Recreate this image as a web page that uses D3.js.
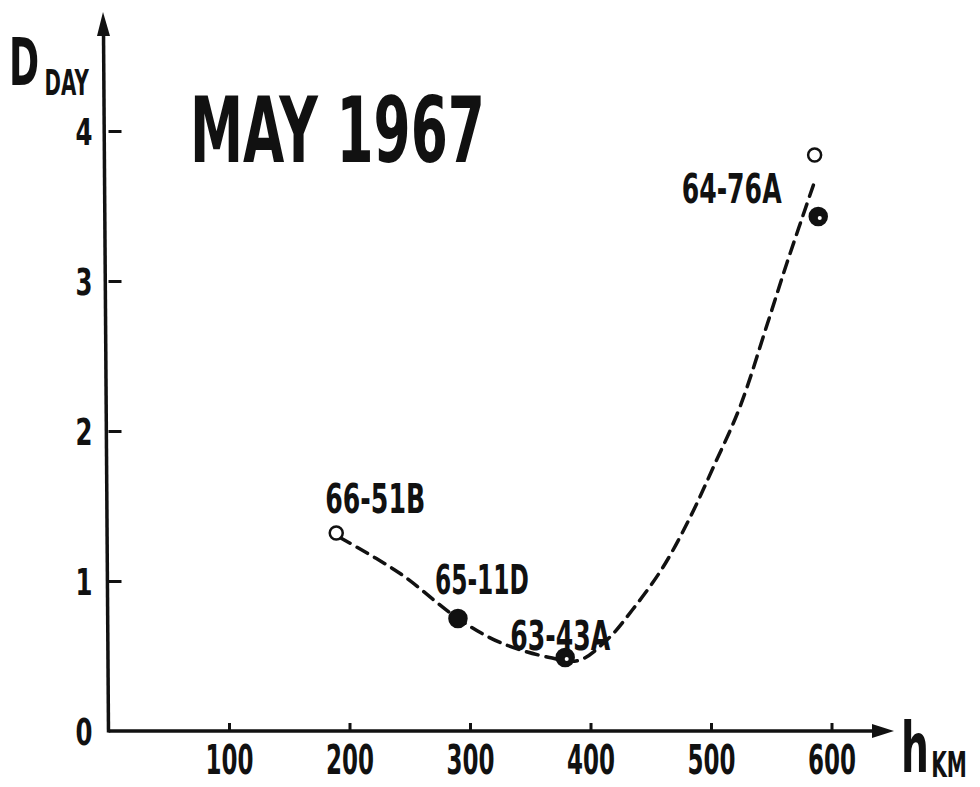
<!DOCTYPE html>
<html lang="en">
<head>
<meta charset="utf-8">
<title>May 1967</title>
<script src="https://cdn.jsdelivr.net/npm/d3@7"></script>
<style>
  body { margin: 0; background: #fff; }
  text { font-family: "Liberation Sans Narrow", "DejaVu Sans", sans-serif; font-weight: bold; fill: #111; }
</style>
</head>
<body>
<script>
// measured points (h in km, D_day)
var pointH = [189, 290, 379, 586, 589];
var pointD = [1.32, 0.75, 0.49, 3.84, 3.43];
var pointOpen = [true, false, false, true, false];
var pointDot = [false, false, true, false, true];

var satNames = ["66-51B", "65-11D", "63-43A", "64-76A"];
var satPoint = [0, 1, 2, 3];

// dashed fitted curve
var curveH = [192, 242, 290, 325, 366, 390, 414, 435, 460, 483, 502, 524, 547, 563, 585];
var curveD = [1.29, 1.05, 0.75, 0.59, 0.49, 0.47, 0.61, 0.81, 1.09, 1.43, 1.76, 2.16, 2.72, 3.12, 3.64];

var xTicks = [100, 200, 300, 400, 500, 600];
var yTicks = [0, 1, 2, 3, 4];

var width = 980, height = 787;

var x = d3.scaleLinear().domain([0, 600]).range([108.5, 831.5]);
var y = d3.scaleLinear().domain([0, 4]).range([731, 131]);

var svg = d3.select("body").append("svg")
    .attr("width", width)
    .attr("height", height);

// axes
var xAxis = d3.axisBottom(x).tickValues(xTicks).tickSize(-8).tickPadding(14).tickSizeOuter(0);
var yAxis = d3.axisLeft(y).tickValues(yTicks).tickFormat(d3.format("d"))
    .tickSize(-13).tickPadding(16).tickSizeOuter(0);

var gx = svg.append("g").attr("transform", "translate(0," + y(0) + ")").call(xAxis);
var gy = svg.append("g").attr("transform", "translate(" + x(0) + ",0)").call(yAxis);

gx.select(".domain").remove();
gy.select(".domain").remove();

gx.selectAll(".tick line").attr("stroke", "#111").attr("stroke-width", 3);
gy.selectAll(".tick line").attr("stroke", "#111").attr("stroke-width", 3);
gy.selectAll(".tick").filter(function(d){ return d === 0; }).select("line").remove();

gx.selectAll(".tick text")
    .attr("font-size", 40)
    .attr("textLength", 48)
    .attr("lengthAdjust", "spacingAndGlyphs")
    .attr("dy", "0.72em");
gy.selectAll(".tick text")
    .attr("font-size", 38)
    .attr("textLength", 17)
    .attr("lengthAdjust", "spacingAndGlyphs")
    .attr("dy", "0.36em");

// axis lines with arrows
svg.append("line")
    .attr("x1", x(0)).attr("y1", y(0))
    .attr("x2", 875).attr("y2", y(0))
    .attr("stroke", "#111").attr("stroke-width", 3.5);
svg.append("path")
    .attr("d", "M872," + (y(0) - 7) + " L894," + y(0) + " L872," + (y(0) + 7) + " Z")
    .attr("fill", "#111");

svg.append("line")
    .attr("x1", x(0)).attr("y1", y(0) + 1.5)
    .attr("x2", 103.5).attr("y2", 32)
    .attr("stroke", "#111").attr("stroke-width", 3.5);
svg.append("path")
    .attr("d", "M97,36 L103,12 L110,36 Z")
    .attr("fill", "#111");

// axis titles (main letter + subscript in one text, squeezed horizontally)
var dLab = svg.append("text").attr("transform", "translate(9,85) scale(0.55,1)");
dLab.append("tspan").attr("font-size", 66).text("D");
dLab.append("tspan").attr("font-size", 36).attr("dx", 10).attr("dy", 10).text("DAY");

var hLab = svg.append("text").attr("transform", "translate(901,772) scale(0.56,1)");
hLab.append("tspan").attr("font-size", 70).text("h");
hLab.append("tspan").attr("font-size", 36).attr("dx", 4).attr("dy", 5).text("KM");

// title
svg.append("text").attr("x", 190).attr("y", 162)
    .attr("font-size", 90).attr("textLength", 295).attr("lengthAdjust", "spacingAndGlyphs")
    .text("MAY 1967");

// curve
var line = d3.line()
    .x(function(d){ return x(d[0]); })
    .y(function(d){ return y(d[1]); })
    .curve(d3.curveCatmullRom.alpha(0.5));

svg.append("path")
    .datum(d3.zip(curveH, curveD))
    .attr("d", line)
    .attr("fill", "none")
    .attr("stroke", "#111")
    .attr("stroke-width", 3.5)
    .attr("stroke-dasharray", "12,8")
    .attr("stroke-linecap", "round");

// points
var pts = d3.range(pointH.length);
svg.selectAll("circle.pt")
    .data(pts)
    .enter().append("circle")
    .attr("class", "pt")
    .attr("cx", function(i){ return x(pointH[i]); })
    .attr("cy", function(i){ return y(pointD[i]); })
    .attr("r", function(i){ return pointOpen[i] ? 6.5 : 8.5; })
    .attr("fill", function(i){ return pointOpen[i] ? "#fff" : "#111"; })
    .attr("stroke", "#111")
    .attr("stroke-width", 2.5);

svg.selectAll("circle.dot")
    .data(pts.filter(function(i){ return pointDot[i]; }))
    .enter().append("circle")
    .attr("class", "dot")
    .attr("cx", function(i){ return x(pointH[i]) + 1.5; })
    .attr("cy", function(i){ return y(pointD[i]) + 1.5; })
    .attr("r", 2)
    .attr("fill", "#fff");

// satellite labels
var labelDx = [-11, -23, -55, -133];
var labelDy = [-20, -25, -8, 48];
svg.selectAll("text.sat")
    .data(d3.range(satNames.length))
    .enter().append("text")
    .attr("class", "sat")
    .attr("x", function(i){ return x(pointH[satPoint[i]]) + labelDx[i]; })
    .attr("y", function(i){ return y(pointD[satPoint[i]]) + labelDy[i]; })
    .attr("font-size", 40)
    .attr("textLength", function(i){ return i === 1 ? 94 : 100; })
    .attr("lengthAdjust", "spacingAndGlyphs")
    .text(function(i){ return satNames[i]; });
</script>
</body>
</html>
